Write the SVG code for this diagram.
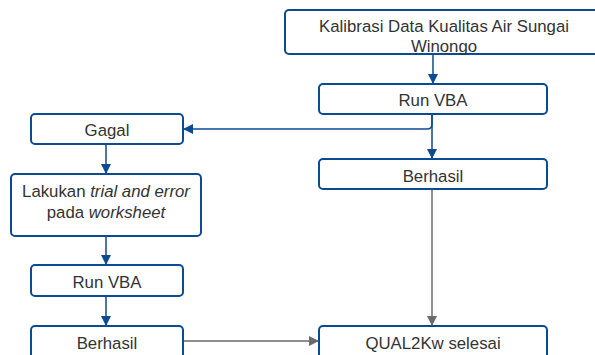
<svg xmlns="http://www.w3.org/2000/svg" width="595" height="355" viewBox="0 0 595 355">
<defs>
<marker id="ab" markerWidth="10" markerHeight="12" refX="10" refY="5" orient="auto" markerUnits="userSpaceOnUse"><path d="M0,0 L10,5 L0,10 z" fill="#0c4a91"/></marker>
<marker id="ag" markerWidth="10" markerHeight="12" refX="10" refY="5" orient="auto" markerUnits="userSpaceOnUse"><path d="M0,0 L10,5 L0,10 z" fill="#6a6a6a"/></marker>
<style>
.n{fill:#fff;stroke:#0c4a91;stroke-width:2}
.t{font-family:"Liberation Sans",Arial,sans-serif;font-size:16.8px;fill:#333;text-anchor:middle}
.cb{fill:none;stroke:#0c4a91;stroke-width:1.5}
.cg{fill:none;stroke:#6a6a6a;stroke-width:1.5}
</style>
</defs>
<rect width="595" height="355" fill="#fff"/>
<g id="connectors">
<path class="cb" d="M433,54 V84" marker-end="url(#ab)"/>
<path class="cb" d="M432,114 V159" marker-end="url(#ab)"/>
<path class="cb" d="M432,114 V124 Q432,129 427,129 H183" marker-end="url(#ab)"/>
<path class="cb" d="M106,144 V174" marker-end="url(#ab)"/>
<path class="cb" d="M106,236 V265" marker-end="url(#ab)"/>
<path class="cb" d="M106,296 V326" marker-end="url(#ab)"/>
<path class="cg" d="M432,189 V326" marker-end="url(#ag)"/>
<path class="cg" d="M183,341 H319" marker-end="url(#ag)"/>
</g>
<g id="kalibrasi"><rect class="n" x="285" y="10" width="320" height="44" rx="4"/><text class="t" x="444" y="32">Kalibrasi Data Kualitas Air Sungai</text><text class="t" x="444" y="52">Winongo</text></g>
<g id="runvba1"><rect class="n" x="319" y="84" width="228" height="30" rx="4"/><text class="t" x="433" y="106">Run VBA</text></g>
<g id="gagal"><rect class="n" x="31" y="114" width="152" height="30" rx="4"/><text class="t" x="107" y="136">Gagal</text></g>
<g id="berhasil1"><rect class="n" x="319" y="159" width="228" height="30" rx="4"/><text class="t" x="433" y="182">Berhasil</text></g>
<g id="trial"><rect class="n" x="11" y="174" width="190" height="62" rx="4"/><text class="t" x="106" y="197">Lakukan <tspan font-style="italic">trial and error</tspan></text><text class="t" x="106" y="218">pada <tspan font-style="italic">worksheet</tspan></text></g>
<g id="runvba2"><rect class="n" x="31" y="265" width="152" height="31" rx="4"/><text class="t" x="107" y="288">Run VBA</text></g>
<g id="berhasil2"><rect class="n" x="31" y="326" width="152" height="34" rx="4"/><text class="t" x="107" y="349">Berhasil</text></g>
<g id="selesai"><rect class="n" x="319" y="326" width="228" height="34" rx="4"/><text class="t" x="433" y="349">QUAL2Kw selesai</text></g>
</svg>
